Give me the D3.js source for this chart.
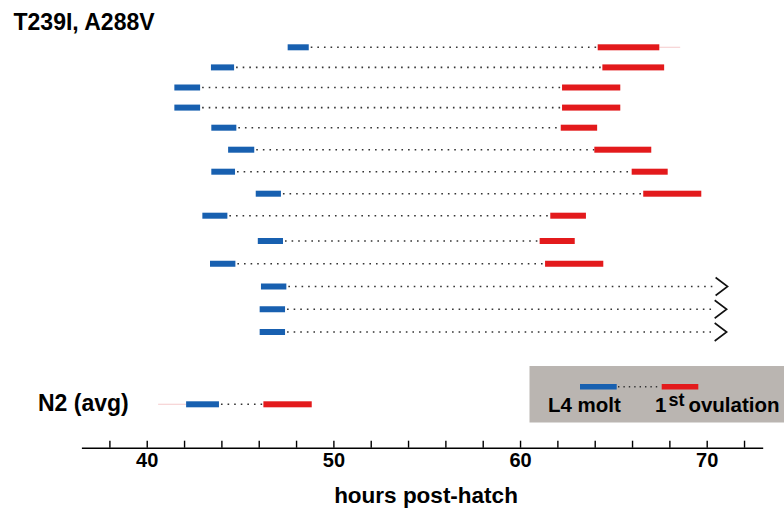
<!DOCTYPE html>
<html>
<head>
<meta charset="utf-8">
<script src="https://cdn.jsdelivr.net/npm/d3@7"></script>
<style>
  html, body { margin: 0; padding: 0; background: #fff; }
  svg { display: block; }
  text { font-family: "Liberation Sans", Arial, Helvetica, sans-serif; font-weight: bold; fill: #000; }
</style>
</head>
<body>
<svg id="chart" width="784" height="510"></svg>
<script>
// ---- data (hours post-hatch) ----
const rowIds = ["w1","w2","w3","w4","w5","w6","w7","w8","w9","w10","w11","w12","w13","w14"];
const l4Start = [47.55, 43.44, 41.48, 41.48, 43.46, 44.36, 43.46, 45.84, 42.98, 45.95, 43.39, 46.12, 46.05, 46.05];
const l4End   = [48.68, 44.68, 42.86, 42.86, 44.80, 45.76, 44.73, 47.19, 44.32, 47.30, 44.75, 47.48, 47.41, 47.41];
const ovStart = [64.16, 64.41, 62.25, 62.25, 62.18, 63.98, 65.98, 66.60, 61.62, 61.05, 61.34, null, null, null];
const ovEnd   = [67.46, 67.72, 65.37, 65.37, 64.13, 67.03, 67.91, 69.71, 63.53, 62.93, 64.46, null, null, null];
const censoredAt = [null, null, null, null, null, null, null, null, null, null, null, 71.12, 71.07, 71.07];
const faintEnd = [68.58, null, null, null, null, null, null, null, null, null, null, null, null, null];

const n2Label = "N2 (avg)";
const n2L4 = [42.11, 43.87];
const n2Ov = [46.25, 48.84];
const n2FaintStart = 40.61;

const titleText = "T239I, A288V";
const axisTitle = "hours post-hatch";
const tickValuesAll = [38, 40, 42, 44, 46, 48, 50, 52, 54, 56, 58, 60, 62, 64, 66, 68, 70, 72];
const tickLabelled = [40, 50, 60, 70];
const legendLabels = ["L4 molt", "1", "st", "ovulation"];

// ---- styles ----
const BLUE = "#1860b0", RED = "#e31a1c", DOT = "#333", BOX = "#bab5b1";
const barH = 6;

const svg = d3.select("#chart");

const x = d3.scaleLinear().domain([36.5, 73]).range([81.4, 762.7]);
const yIdx = d3.scaleLinear().domain([0, 4, 8, 9, 13]).range([47.3, 127.7, 215.7, 241, 332]);
const yN2 = 404.3;

// title
svg.append("text").attr("x", 13.5).attr("y", 30).style("font-size", "23px").text(titleText);

function drawRow(g, y, bs, be, rs, re, cens, faint, faintStart) {
  if (faint != null) {
    g.append("line").attr("x1", x(re)).attr("x2", x(faint)).attr("y1", y).attr("y2", y)
      .attr("stroke", "#f7d3d4").attr("stroke-width", 1.2);
  }
  if (faintStart != null) {
    g.append("line").attr("x1", x(faintStart)).attr("x2", x(bs)).attr("y1", y).attr("y2", y)
      .attr("stroke", "#f7d3d4").attr("stroke-width", 1.2);
  }
  const dotEnd = rs != null ? x(rs) : x(cens) - 12;
  g.append("line").attr("x1", x(be) + 2).attr("x2", dotEnd).attr("y1", y).attr("y2", y)
    .attr("stroke", DOT).attr("stroke-width", 1.6).attr("stroke-dasharray", "1.6,5");
  g.append("rect").attr("x", x(bs)).attr("y", y - barH / 2).attr("width", x(be) - x(bs)).attr("height", barH)
    .attr("fill", BLUE);
  if (rs != null) {
    g.append("rect").attr("x", x(rs)).attr("y", y - barH / 2).attr("width", x(re) - x(rs)).attr("height", barH)
      .attr("fill", RED);
  }
  if (cens != null) {
    const t = x(cens);
    g.append("path").attr("d", `M${t - 12},${y - 9} L${t},${y} L${t - 12},${y + 9}`)
      .attr("fill", "none").attr("stroke", "#111").attr("stroke-width", 1.6);
  }
}

const rowsG = svg.append("g");
rowIds.forEach((id, i) => {
  drawRow(rowsG.append("g"), yIdx(i), l4Start[i], l4End[i], ovStart[i], ovEnd[i], censoredAt[i], faintEnd[i], null);
});

// N2 row
svg.append("text").attr("x", 38).attr("y", 411).style("font-size", "23px").text(n2Label);
drawRow(svg.append("g"), yN2, n2L4[0], n2L4[1], n2Ov[0], n2Ov[1], null, null, n2FaintStart);

// legend
const lg = svg.append("g");
lg.append("rect").attr("x", 529.5).attr("y", 366).attr("width", 784 - 529.5).attr("height", 56.5).attr("fill", BOX);
lg.append("line").attr("x1", 618).attr("x2", 661).attr("y1", 386.7).attr("y2", 386.7)
  .attr("stroke", DOT).attr("stroke-width", 1.4).attr("stroke-dasharray", "1.4,4");
lg.append("rect").attr("x", 580).attr("y", 384).attr("width", 36.7).attr("height", 5.5).attr("fill", BLUE);
lg.append("rect").attr("x", 661.7).attr("y", 384).attr("width", 36.6).attr("height", 5.5).attr("fill", RED);
lg.append("text").attr("x", 548).attr("y", 412).style("font-size", "20.5px").text(legendLabels[0]);
const t2 = lg.append("text").attr("x", 655).attr("y", 412).style("font-size", "20.5px");
t2.append("tspan").text(legendLabels[1]);
t2.append("tspan").attr("dx", 2).attr("dy", -6).style("font-size", "18px").text(legendLabels[2]);
t2.append("tspan").attr("dx", 4).attr("dy", 6).text(legendLabels[3]);

// axis
const axis = d3.axisBottom(x)
  .tickValues(tickValuesAll)
  .tickSizeInner(-7)
  .tickSizeOuter(0)
  .tickPadding(5)
  .tickFormat(d => tickLabelled.includes(d) ? String(d) : "");
const ag = svg.append("g").attr("transform", "translate(0,447.7)").call(axis);
ag.select(".domain").attr("stroke", "#000").attr("stroke-width", 1.6);
ag.selectAll(".tick line").attr("stroke", "#000").attr("stroke-width", 1.4);
ag.selectAll(".tick text").style("font-size", "20px").style("font-family", "'Liberation Sans', Arial, sans-serif")
  .style("font-weight", "bold").attr("fill", "#000");

svg.append("text").attr("x", 426).attr("y", 503).attr("text-anchor", "middle")
  .style("font-size", "22.5px").text(axisTitle);
</script>
</body>
</html>
